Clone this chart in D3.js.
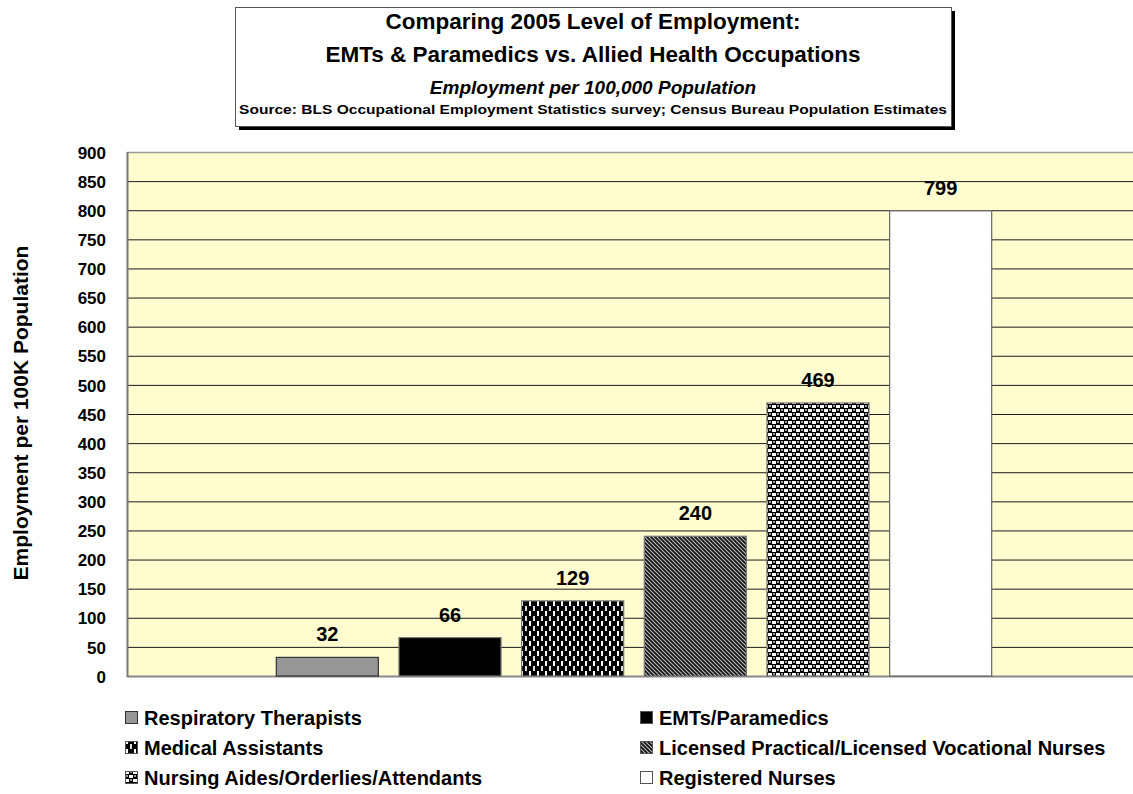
<!DOCTYPE html>
<html>
<head>
<meta charset="utf-8">
<script src="https://cdn.jsdelivr.net/npm/d3@7"></script>
<style>
  html, body { margin: 0; padding: 0; background: #fff; }
  svg { display: block; font-family: "Liberation Sans", Arial, sans-serif; }
</style>
</head>
<body>
<svg id="chart" width="1133" height="794"></svg>
<script>
// ---- data ----
const seriesNames = [
  "Respiratory Therapists",
  "EMTs/Paramedics",
  "Medical Assistants",
  "Licensed Practical/Licensed Vocational Nurses",
  "Nursing Aides/Orderlies/Attendants",
  "Registered Nurses"
];
const seriesValues = [32, 66, 129, 240, 469, 799];
const yTicks = [0, 50, 100, 150, 200, 250, 300, 350, 400, 450, 500, 550, 600, 650, 700, 750, 800, 850, 900];
const titleLines = [
  "Comparing 2005 Level of Employment:",
  "EMTs & Paramedics vs. Allied Health Occupations"
];
const subtitle = "Employment per 100,000 Population";
const sourceText = "Source: BLS Occupational Employment Statistics survey; Census Bureau Population Estimates";
const yAxisLabel = "Employment per 100K Population";

// ---- layout ----
const svg = d3.select("#chart");
const plot = { left: 127, right: 1140, top: 152, bottom: 676 };

const defs = svg.append("defs");
// Medical assistants: black with short vertical dashes (half-drop)
const p1 = defs.append("pattern").attr("id", "pMed").attr("patternUnits", "userSpaceOnUse")
  .attr("width", 8).attr("height", 10);
p1.append("rect").attr("width", 8).attr("height", 10).attr("fill", "#000");
p1.append("rect").attr("x", 1).attr("y", 1).attr("width", 2).attr("height", 5).attr("fill", "#fff");
p1.append("rect").attr("x", 5).attr("y", 6).attr("width", 2).attr("height", 4).attr("fill", "#ddd");
p1.append("rect").attr("x", 5).attr("y", 0).attr("width", 2).attr("height", 1).attr("fill", "#ddd");
// LPN: diagonal stripes
const p2 = defs.append("pattern").attr("id", "pLpn").attr("patternUnits", "userSpaceOnUse")
  .attr("width", 4).attr("height", 4);
p2.append("rect").attr("width", 4).attr("height", 4).attr("fill", "#111");
p2.append("path").attr("d", "M-1,-1 L5,5 M-1,3 L1,5 M3,-1 L5,1").attr("stroke", "#b8b8b8").attr("stroke-width", 1.2);
// Nursing aides: black with white squares (weave)
const p3 = defs.append("pattern").attr("id", "pAide").attr("patternUnits", "userSpaceOnUse")
  .attr("width", 8).attr("height", 8);
p3.append("rect").attr("width", 8).attr("height", 8).attr("fill", "#000");
p3.append("rect").attr("x", 0).attr("y", 1).attr("width", 4).attr("height", 3).attr("fill", "#fff");
p3.append("rect").attr("x", 4).attr("y", 5).attr("width", 4).attr("height", 3).attr("fill", "#fff");
p3.append("rect").attr("x", 5).attr("y", 1).attr("width", 2).attr("height", 2).attr("fill", "#999");
p3.append("rect").attr("x", 1).attr("y", 5).attr("width", 2).attr("height", 2).attr("fill", "#999");

const fills = ["#969696", "#000000", "url(#pMed)", "url(#pLpn)", "url(#pAide)", "#ffffff"];
const strokes = ["#333", "#777", "#777", "#777", "#777", "#666"];

const y = d3.scaleLinear().domain([0, 900]).range([plot.bottom, plot.top]);
const x = d3.scaleBand().domain(seriesNames).range([266, 1002]).paddingInner(0.168).paddingOuter(0.084);

// plot background
svg.append("rect").attr("x", plot.left).attr("y", plot.top)
  .attr("width", plot.right - plot.left).attr("height", plot.bottom - plot.top)
  .attr("fill", "#FFFDD0");

// gridlines
svg.append("g").selectAll("line").data(yTicks.filter(d => d > 0 && d < 900)).join("line")
  .attr("x1", plot.left).attr("x2", plot.right)
  .attr("y1", d => y(d) + 0.5).attr("y2", d => y(d) + 0.5)
  .attr("stroke", "#1a1a1a").attr("stroke-width", 1);
// top border
svg.append("line").attr("x1", plot.left).attr("x2", plot.right)
  .attr("y1", plot.top + 0.5).attr("y2", plot.top + 0.5).attr("stroke", "#999").attr("stroke-width", 1.5);
// bottom border
svg.append("line").attr("x1", plot.left).attr("x2", plot.right)
  .attr("y1", plot.bottom + 0.5).attr("y2", plot.bottom + 0.5).attr("stroke", "#888").attr("stroke-width", 2);
// left axis
svg.append("line").attr("x1", plot.left + 0.5).attr("x2", plot.left + 0.5)
  .attr("y1", plot.top).attr("y2", plot.bottom + 1).attr("stroke", "#777").attr("stroke-width", 2);

// y axis tick labels via d3 axis
const yAxis = d3.axisLeft(y).tickValues(yTicks).tickSize(0).tickPadding(21);
const ga = svg.append("g").attr("transform", `translate(${plot.left},0)`).call(yAxis);
ga.select(".domain").remove();
ga.selectAll("text").attr("font-family", "Liberation Sans, Arial, sans-serif")
  .attr("font-size", 17).attr("font-weight", "bold").attr("fill", "#000").attr("dy", "0.36em");

// y axis label
svg.append("text").attr("transform", `translate(28,413) rotate(-90)`)
  .attr("text-anchor", "middle").attr("font-size", 21).attr("font-weight", "bold").text(yAxisLabel);

// bars
svg.append("g").selectAll("rect").data(seriesValues).join("rect")
  .attr("x", (d, i) => x(seriesNames[i]))
  .attr("y", d => y(d))
  .attr("width", x.bandwidth())
  .attr("height", d => y(0) - y(d))
  .attr("fill", (d, i) => fills[i])
  .attr("stroke", (d, i) => strokes[i]).attr("stroke-width", 1.2);

// value labels
svg.append("g").selectAll("text").data(seriesValues).join("text")
  .attr("x", (d, i) => x(seriesNames[i]) + x.bandwidth() / 2)
  .attr("y", d => y(d) - 16)
  .attr("text-anchor", "middle").attr("font-size", 20).attr("font-weight", "bold")
  .text(d => d);

// title box
const box = { x: 235, y: 7, w: 716, h: 119 };
svg.append("rect").attr("x", box.x + 4).attr("y", box.y + 4).attr("width", box.w).attr("height", box.h).attr("fill", "#000");
svg.append("rect").attr("x", box.x + 0.5).attr("y", box.y + 0.5).attr("width", box.w).attr("height", box.h)
  .attr("fill", "#fff").attr("stroke", "#555").attr("stroke-width", 1);
const cx = box.x + box.w / 2;
svg.append("text").attr("x", cx).attr("y", 29).attr("text-anchor", "middle")
  .attr("font-size", 22.5).attr("font-weight", "bold").text(titleLines[0]);
svg.append("text").attr("x", cx).attr("y", 62).attr("text-anchor", "middle")
  .attr("font-size", 22.5).attr("font-weight", "bold").text(titleLines[1]);
svg.append("text").attr("x", cx).attr("y", 94).attr("text-anchor", "middle")
  .attr("font-size", 19).attr("font-weight", "bold").attr("font-style", "italic").text(subtitle);
svg.append("text").attr("x", cx).attr("y", 114).attr("text-anchor", "middle")
  .attr("font-size", 13.5).attr("font-weight", "bold")
  .attr("textLength", 708).attr("lengthAdjust", "spacingAndGlyphs").text(sourceText);

// legend
const legendCols = [125, 640];
const legendRows = [718, 748, 778];
const lg = svg.append("g").selectAll("g").data(seriesNames).join("g")
  .attr("transform", (d, i) => `translate(${legendCols[i % 2]},${legendRows[Math.floor(i / 2)]})`);
lg.append("rect").attr("x", 0.5).attr("y", -6.5).attr("width", 12).attr("height", 12)
  .attr("fill", (d, i) => fills[i]).attr("stroke", (d, i) => i === 0 ? "#333" : "#555").attr("stroke-width", 1);
lg.append("text").attr("x", 19).attr("y", 0).attr("dy", "0.36em")
  .attr("font-size", 20).attr("font-weight", "bold").text(d => d);
</script>
</body>
</html>
